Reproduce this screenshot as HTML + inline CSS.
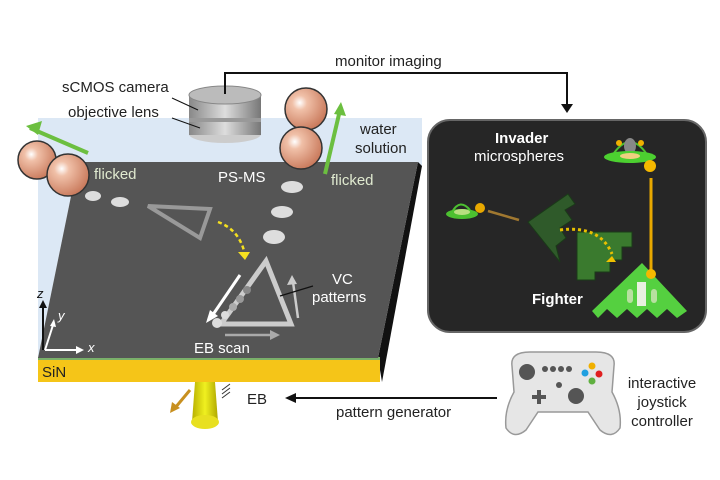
<!DOCTYPE html>
<html><head><meta charset="utf-8"><style>
html,body{margin:0;padding:0;background:#fff;}
svg{display:block;font-family:"Liberation Sans",Arial,sans-serif;}
</style></head><body>
<svg width="720" height="480" viewBox="0 0 720 480" xmlns="http://www.w3.org/2000/svg">
<defs>
<radialGradient id="sph" cx="0.35" cy="0.35" r="0.7">
<stop offset="0" stop-color="#fff"/><stop offset="0.25" stop-color="#f0c0a8"/><stop offset="1" stop-color="#c8785a"/>
</radialGradient>
<linearGradient id="cyl" x1="0" x2="1"><stop offset="0" stop-color="#888"/><stop offset="0.5" stop-color="#ddd"/><stop offset="1" stop-color="#777"/></linearGradient>
<linearGradient id="cone" x1="0" x2="1"><stop offset="0" stop-color="#b8b000"/><stop offset="0.5" stop-color="#f0f020"/><stop offset="1" stop-color="#b0a800"/></linearGradient>
</defs>
<!-- water -->
<polygon points="38,118 422,118 422,166 78,162 38,358" fill="#dce8f5"/>
<!-- plate side -->
<polygon points="378,358 418,162 422,166 382,382" fill="#111"/>
<rect x="38" y="360" width="342" height="22" fill="#f5c518"/>
<rect x="38" y="357" width="342" height="3" fill="#7ab06a"/>
<polygon points="78,162 418,162 378,358 38,358" fill="#555"/>
<text x="42" y="377" font-size="15" fill="#222">SiN</text>
<!-- camera -->
<ellipse cx="225" cy="134" rx="36" ry="9" fill="#ccc"/>
<rect x="189" y="95" width="72" height="40" fill="url(#cyl)"/>
<rect x="189" y="118" width="72" height="4" fill="#999"/>
<ellipse cx="225" cy="95" rx="36" ry="9" fill="#bbb" stroke="#888"/>
<text x="62" y="92" font-size="15" fill="#222">sCMOS camera</text>
<text x="68" y="117" font-size="15" fill="#222">objective lens</text>
<line x1="172" y1="98" x2="198" y2="110" stroke="#111"/>
<line x1="172" y1="118" x2="200" y2="128" stroke="#111"/>
<!-- monitor line -->
<polyline points="225,94 225,73 567,73 567,106" fill="none" stroke="#111" stroke-width="2"/>
<polygon points="561,104 573,104 567,113" fill="#111"/>
<text x="335" y="66" font-size="15" fill="#222">monitor imaging</text>
<text x="360" y="134" font-size="15" fill="#222">water</text>
<text x="355" y="153" font-size="15" fill="#222">solution</text>
<!-- spheres -->
<line x1="88" y1="153" x2="30" y2="128" stroke="#6cbf40" stroke-width="4"/>
<polygon points="26,126 42,121 38,135" fill="#6cbf40"/>
<circle cx="37" cy="160" r="19" fill="url(#sph)" stroke="#333" stroke-width="1.5"/>
<circle cx="68" cy="175" r="21" fill="url(#sph)" stroke="#333" stroke-width="1.5"/>
<line x1="325" y1="174" x2="340" y2="110" stroke="#6cbf40" stroke-width="4"/>
<polygon points="341,102 346,116 334,114" fill="#6cbf40"/>
<circle cx="306" cy="109" r="21" fill="url(#sph)" stroke="#333" stroke-width="1.5"/>
<circle cx="301" cy="148" r="21" fill="url(#sph)" stroke="#333" stroke-width="1.5"/>
<text x="94" y="179" font-size="15" fill="#e0ead0">flicked</text>
<text x="218" y="182" font-size="15" fill="#fff">PS-MS</text>
<text x="331" y="185" font-size="15" fill="#e0ead0">flicked</text>
<!-- dots -->
<g fill="#ddd">
<ellipse cx="93" cy="196" rx="8" ry="5"/><ellipse cx="120" cy="202" rx="9" ry="5"/>
<ellipse cx="292" cy="187" rx="11" ry="6"/><ellipse cx="282" cy="212" rx="11" ry="6"/><ellipse cx="274" cy="237" rx="11" ry="7"/>
</g>
<polygon points="148,206 210,209 200,238" fill="none" stroke="#999" stroke-width="4"/>
<path d="M218,222 Q240,230 245,255" fill="none" stroke="#f5e020" stroke-width="2.5" stroke-dasharray="4,3"/>
<polygon points="238,252 250,252 245,260" fill="#f5e020"/>
<!-- VC triangle -->
<polygon points="266,261 291,324 221,324" fill="none" stroke="#ccc" stroke-width="5"/>
<g fill="#ddd"><circle cx="217" cy="323" r="5"/><circle cx="225" cy="315" r="4"/><circle cx="233" cy="307" r="4" fill="#aaa"/><circle cx="240" cy="299" r="4" fill="#999"/><circle cx="247" cy="290" r="4" fill="#888"/></g>
<line x1="240" y1="275" x2="212" y2="316" stroke="#fff" stroke-width="3"/>
<polygon points="206,323 210,310 218,316" fill="#fff"/>
<line x1="225" y1="335" x2="272" y2="335" stroke="#aaa" stroke-width="2.5"/>
<polygon points="280,335 270,330 270,340" fill="#aaa"/>
<line x1="298" y1="318" x2="293" y2="282" stroke="#ccc" stroke-width="2.5"/>
<polygon points="292,275 287,285 297,284" fill="#ccc"/>
<line x1="313" y1="286" x2="280" y2="296" stroke="#111" stroke-width="1.2"/>
<text x="332" y="284" font-size="15" fill="#fff">VC</text>
<text x="312" y="302" font-size="15" fill="#fff">patterns</text>
<text x="194" y="353" font-size="15" fill="#fff">EB scan</text>
<!-- axes -->
<line x1="43" y1="350" x2="43" y2="306" stroke="#111" stroke-width="2"/>
<polygon points="39,308 47,308 43,300" fill="#111"/>
<text x="37" y="298" font-size="13" fill="#111" font-style="italic">z</text>
<line x1="45" y1="350" x2="78" y2="350" stroke="#fff" stroke-width="2"/>
<polygon points="76,346 84,350 76,354" fill="#fff"/>
<text x="88" y="352" font-size="13" fill="#fff" font-style="italic">x</text>
<line x1="45" y1="350" x2="53" y2="325" stroke="#fff" stroke-width="2"/>
<polygon points="50,326 56,327 54,319" fill="#fff"/>
<text x="58" y="320" font-size="13" fill="#fff" font-style="italic">y</text>
<!-- EB beam -->
<polygon points="195,382 215,382 218,422 192,422" fill="url(#cone)"/>
<ellipse cx="205" cy="422" rx="14" ry="7" fill="#e8e020"/>
<line x1="190" y1="390" x2="175" y2="408" stroke="#c89020" stroke-width="3"/>
<polygon points="170,413 172,402 180,408" fill="#c89020"/>
<g stroke="#333"><line x1="222" y1="390" x2="230" y2="384"/><line x1="222" y1="394" x2="230" y2="388"/><line x1="222" y1="398" x2="230" y2="392"/></g>
<text x="247" y="404" font-size="15" fill="#222">EB</text>
<line x1="292" y1="398" x2="497" y2="398" stroke="#111" stroke-width="2"/>
<polygon points="285,398 296,393 296,403" fill="#111"/>
<text x="336" y="417" font-size="15" fill="#222">pattern generator</text>
<!-- monitor -->
<rect x="428" y="120" width="278" height="212" rx="22" fill="#262626" stroke="#666" stroke-width="2"/>
<text x="495" y="143" font-size="15" fill="#fff" font-weight="bold">Invader</text>
<text x="474" y="161" font-size="15" fill="#fff">microspheres</text>
<text x="532" y="304" font-size="15" fill="#fff" font-weight="bold">Fighter</text>
<!-- ufo -->
<path d="M612,156 Q630,128 648,156 Z" fill="none" stroke="#4cc030" stroke-width="2"/>
<ellipse cx="630" cy="146" rx="6" ry="8" fill="#888"/>
<ellipse cx="630" cy="157" rx="26" ry="6" fill="#4cd030"/>
<ellipse cx="630" cy="156" rx="10" ry="3" fill="#f0d080"/>
<circle cx="619" cy="143" r="3" fill="#f0b000"/><circle cx="641" cy="143" r="3" fill="#f0b000"/>
<circle cx="650" cy="166" r="6" fill="#f5b800"/>
<line x1="651" y1="178" x2="651" y2="270" stroke="#e8a800" stroke-width="3"/>
<!-- small ufo -->
<ellipse cx="462" cy="214" rx="16" ry="5" fill="#4cc030"/>
<path d="M452,212 Q460,198 470,210" fill="none" stroke="#4cc030" stroke-width="2"/>
<ellipse cx="462" cy="212" rx="8" ry="3" fill="#b8e080"/>
<circle cx="480" cy="208" r="5" fill="#e8a800"/>
<line x1="488" y1="211" x2="519" y2="220" stroke="#a07830" stroke-width="2.5"/>
<!-- dark fighters -->
<polygon points="528,222 568,194 575,204 565,210 572,220 560,228 566,238 556,246 560,262" fill="#2f5a2a" stroke="#1a3a18"/>
<polygon points="577,232 632,232 632,247 622,247 622,260 610,260 610,272 595,272 595,280 577,280" fill="#3a7a2e" stroke="#1a3a18"/>
<path d="M560,230 Q600,225 612,254" fill="none" stroke="#e8c000" stroke-width="3" stroke-dasharray="3,3"/>
<polygon points="612,256 616,262 606,262" fill="#f0c000"/>
<!-- fighter -->
<polygon points="592,311 642,263 687,311 677,318 667,309 657,318 647,309 637,318 627,309 617,318 607,309 598,318" fill="#55d040"/>
<rect x="637" y="282" width="9" height="24" fill="#e8f0e0"/>
<rect x="627" y="289" width="6" height="14" rx="3" fill="#b8e0a0"/>
<rect x="651" y="289" width="6" height="14" rx="3" fill="#b8e0a0"/>
<circle cx="651" cy="274" r="5" fill="#f5b800"/>
<!-- controller -->
<path d="M512,366 Q510,352 530,352 L596,352 Q616,352 614,366 L612,392 Q622,410 620,428 Q612,440 600,430 L588,412 L538,412 L526,430 Q514,440 506,428 Q504,410 514,392 Z" fill="#e6e6e6" stroke="#999" stroke-width="1.5"/>
<circle cx="527" cy="372" r="8" fill="#555"/>
<g fill="#555"><circle cx="545" cy="369" r="3"/><circle cx="553" cy="369" r="3"/><circle cx="561" cy="369" r="3"/><circle cx="569" cy="369" r="3"/><circle cx="559" cy="385" r="3"/></g>
<circle cx="576" cy="396" r="8" fill="#555"/>
<rect x="532" y="395" width="14" height="4" fill="#555"/><rect x="537" y="390" width="4" height="14" fill="#555"/>
<circle cx="592" cy="366" r="3.5" fill="#f0b000"/><circle cx="585" cy="373" r="3.5" fill="#20a0e0"/><circle cx="599" cy="374" r="3.5" fill="#e02020"/><circle cx="592" cy="381" r="3.5" fill="#60b040"/>
<text x="662" y="388" font-size="15" fill="#222" text-anchor="middle">interactive</text>
<text x="662" y="407" font-size="15" fill="#222" text-anchor="middle">joystick</text>
<text x="662" y="426" font-size="15" fill="#222" text-anchor="middle">controller</text>
</svg>
</body></html>
